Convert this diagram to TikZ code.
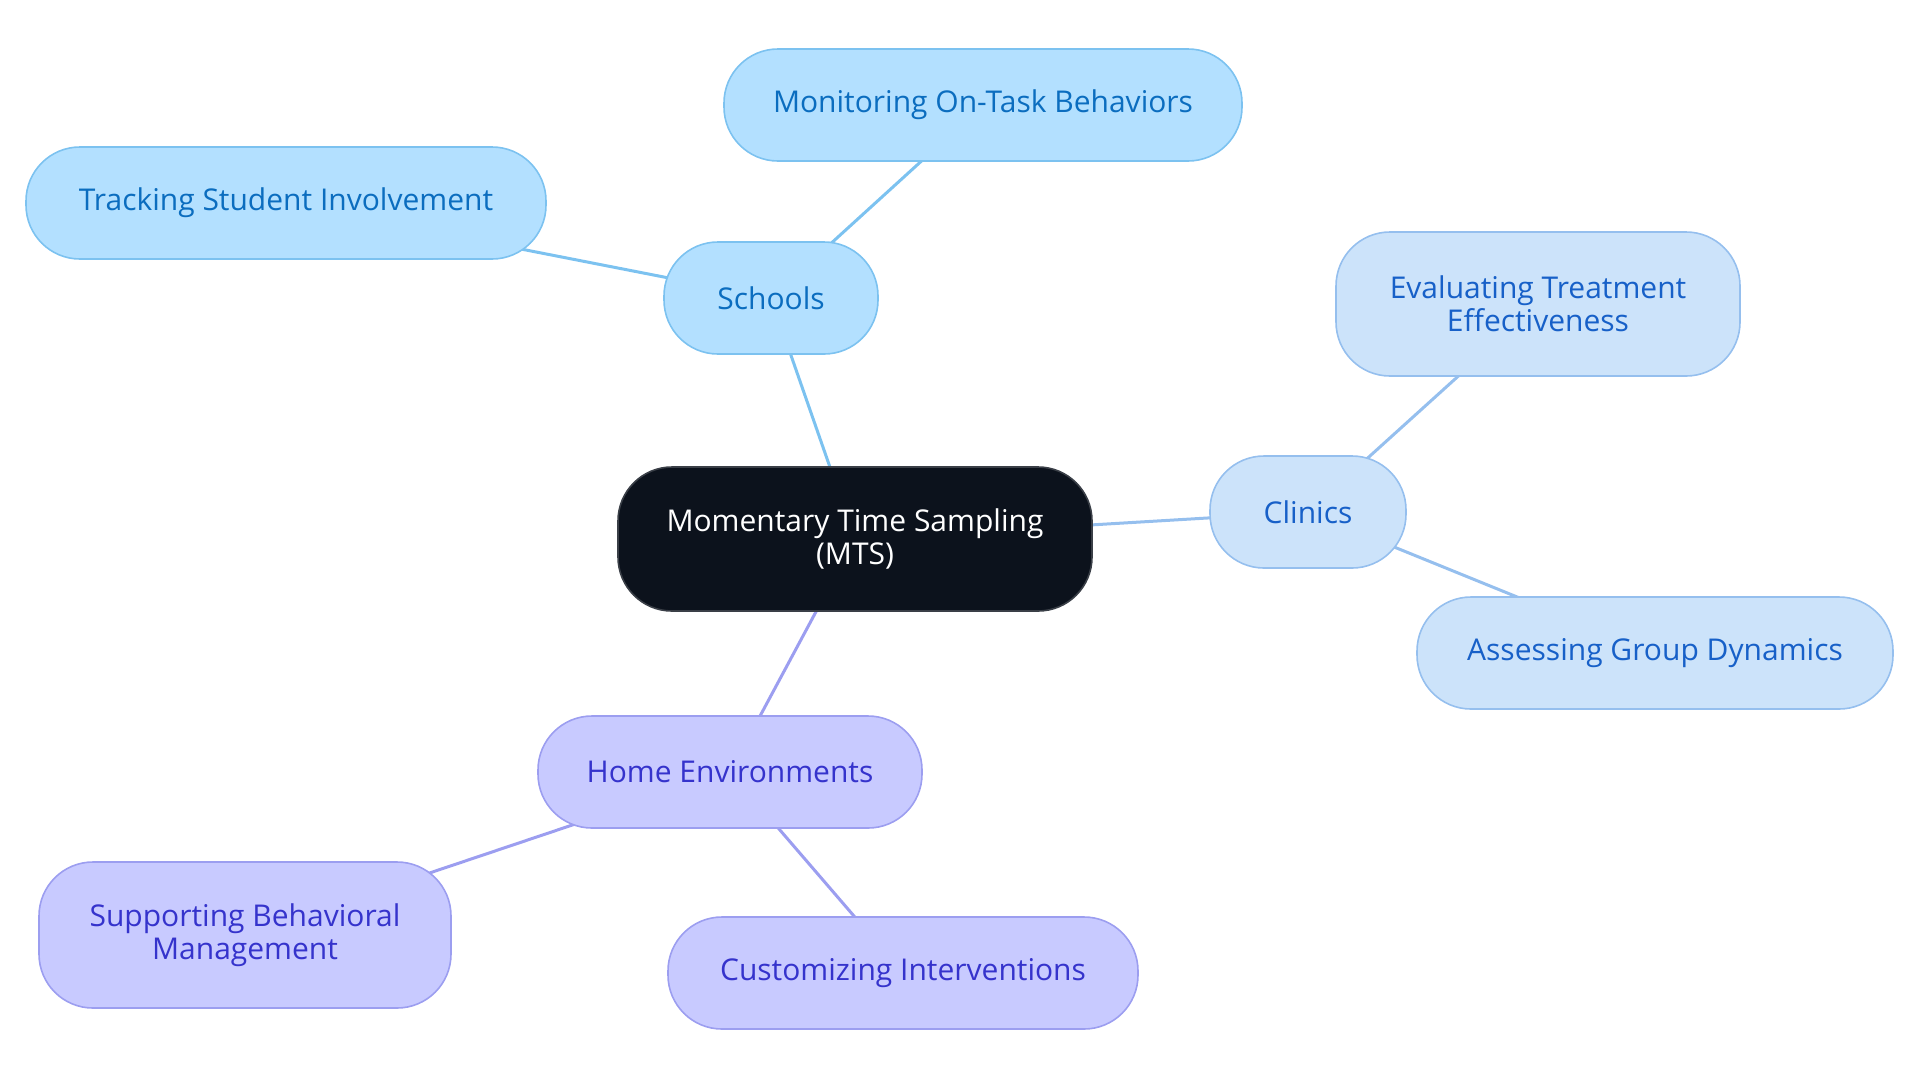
\documentclass[tikz,border=0pt]{standalone}
\usepackage{fontspec}
\setmainfont{Open Sans}
\usetikzlibrary{positioning,backgrounds}

\definecolor{rootfill}{HTML}{0C121C}
\definecolor{rootline}{HTML}{3A3F47}
\definecolor{schfill}{HTML}{B3E0FF}
\definecolor{schline}{HTML}{7CC2F0}
\definecolor{schtext}{HTML}{0B6DBF}
\definecolor{clifill}{HTML}{CCE3FA}
\definecolor{cliline}{HTML}{95BFEE}
\definecolor{clitext}{HTML}{1760C8}
\definecolor{homfill}{HTML}{C8CAFF}
\definecolor{homline}{HTML}{9C9EF0}
\definecolor{homtext}{HTML}{3533CC}

\tikzset{
  pill/.style={rounded corners=27pt, line width=0.8pt, align=center,
    font=\fontsize{15}{16.5}\selectfont, inner sep=0pt},
  rootbox/.style={pill, fill=rootfill, draw=rootline, text=white},
  schbox/.style={pill, fill=schfill, draw=schline, text=schtext},
  clibox/.style={pill, fill=clifill, draw=cliline, text=clitext},
  hombox/.style={pill, fill=homfill, draw=homline, text=homtext},
  schlink/.style={draw=schline, line width=1.5pt},
  clilink/.style={draw=cliline, line width=1.5pt},
  homlink/.style={draw=homline, line width=1.5pt},
}

\begin{document}
\begin{tikzpicture}[x=0.5pt, y=-0.5pt]

\useasboundingbox (0,0) rectangle (1920,1083);

%========================
% 中心
%========================
\node[rootbox, minimum width=237pt, minimum height=72pt] (mts) at (855,539)
  {Momentary Time Sampling\\(MTS)};

%========================
% 枝
%========================
\node[schbox, minimum width=107pt, minimum height=56pt] (schools) at (771,298) {Schools};
\node[clibox, minimum width=98pt, minimum height=56pt] (clinics) at (1308,512) {Clinics};
\node[hombox, minimum width=192pt, minimum height=56pt] (home) at (730,772) {Home Environments};

%========================
% 葉
%========================
\node[schbox, minimum width=259pt, minimum height=56pt] (monitor) at (983,105) {Monitoring On-Task Behaviors};
\node[schbox, minimum width=260pt, minimum height=56pt] (tracking) at (286,203) {Tracking Student Involvement};
\node[clibox, minimum width=202pt, minimum height=72pt] (evaluate) at (1538,304) {Evaluating Treatment\\Effectiveness};
\node[clibox, minimum width=238pt, minimum height=56pt] (assess) at (1655,653) {Assessing Group Dynamics};
\node[hombox, minimum width=206pt, minimum height=73pt] (support) at (245,935) {Supporting Behavioral\\Management};
\node[hombox, minimum width=235pt, minimum height=56pt] (custom) at (903,973) {Customizing Interventions};

%========================
% 接続線
%========================
\begin{scope}[on background layer]
\path[schlink] (mts.center) -- (schools.center);
\path[schlink] (schools.center) -- (monitor.center);
\path[schlink] (schools.center) -- (tracking.center);
\path[clilink] (mts.center) -- (clinics.center);
\path[clilink] (clinics.center) -- (evaluate.center);
\path[clilink] (clinics.center) -- (assess.center);
\path[homlink] (mts.center) -- (home.center);
\path[homlink] (home.center) -- (support.center);
\path[homlink] (home.center) -- (custom.center);
\end{scope}

\end{tikzpicture}
\end{document}
